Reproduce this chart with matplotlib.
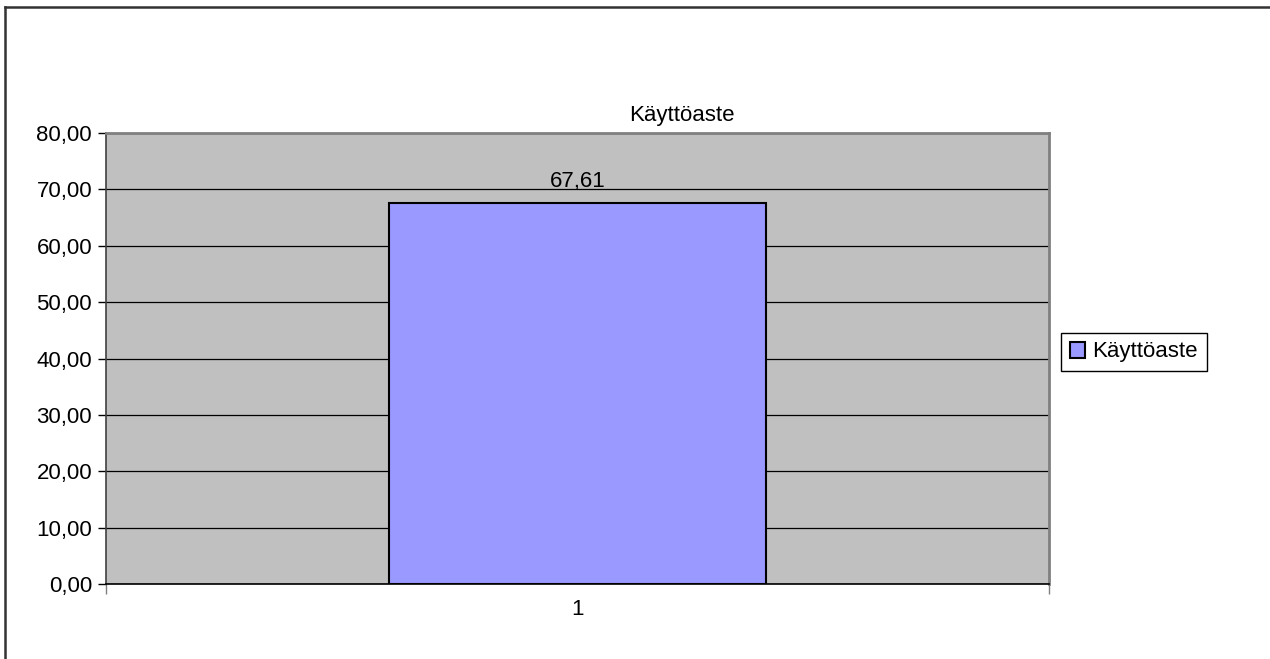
import matplotlib.pyplot as plt
from matplotlib.lines import Line2D

plt.rcParams['font.family'] = ['Liberation Sans', 'DejaVu Sans']

categories = ['1']
values = [67.61]
series_name = 'Käyttöaste'
y_ticks = [0, 10, 20, 30, 40, 50, 60, 70, 80]

W, H = 1270, 659
FS = 16
fig = plt.figure(figsize=(W / 100, H / 100), dpi=100)
ax = fig.add_axes([106 / W, 1 - 584 / H, (1049 - 106) / W, (584 - 133) / H])
ax.set_facecolor('#C0C0C0')

# bars
xs = list(range(1, len(categories) + 1))
ax.bar(xs, values, width=0.4, color='#9999FF', edgecolor='black',
       linewidth=1.5, zorder=3, label=series_name)
for x, v in zip(xs, values):
    ax.annotate(f'{v:.2f}'.replace('.', ','), (x, v), xytext=(0, 8),
                textcoords='offset points', ha='center', va='bottom',
                fontsize=FS, zorder=4)

ax.set_xlim(0.5, len(categories) + 0.5)
ax.set_ylim(0, 80)
ax.set_yticks(y_ticks)
ax.set_yticklabels([f'{t:.2f}'.replace('.', ',') for t in y_ticks], fontsize=FS)
ax.yaxis.grid(True, color='black', linewidth=0.9, zorder=1)
ax.set_axisbelow(True)

# category ticks on the boundaries, labels in the middle
ax.set_xticks([x - 0.5 for x in xs] + [xs[-1] + 0.5])
ax.set_xticklabels([])
ax.set_xticks(xs, minor=True)
ax.set_xticklabels(categories, minor=True, fontsize=FS)
ax.tick_params(axis='x', which='minor', length=0, pad=11)
ax.tick_params(axis='x', which='major', length=7, width=1, color='#808080')
ax.tick_params(axis='y', length=6, width=1, color='black', pad=4)

for side in ['top', 'right']:
    ax.spines[side].set_color('#808080')
    ax.spines[side].set_linewidth(2)
ax.spines['left'].set_color('#404040')
ax.spines['left'].set_linewidth(1.2)
ax.spines['bottom'].set_color('black')
ax.spines['bottom'].set_linewidth(1.2)

fig.text(682 / W, 1 - 116 / H, series_name, ha='center', va='center', fontsize=FS)

fig.legend(loc='center left', bbox_to_anchor=(1061 / W, 1 - 352 / H),
           fontsize=FS, frameon=True, fancybox=False, edgecolor='black',
           framealpha=1, borderpad=0.4, handlelength=0.7, handleheight=0.7,
           handletextpad=0.3, borderaxespad=0)

# outer chart border (only left and top visible)
fig.add_artist(Line2D([5 / W, 5 / W], [0, 1 - 7 / H], color='#333333', linewidth=1.8))
fig.add_artist(Line2D([5 / W, 1], [1 - 7 / H, 1 - 7 / H], color='#333333', linewidth=1.8))

fig.savefig('out.png', dpi=100)
